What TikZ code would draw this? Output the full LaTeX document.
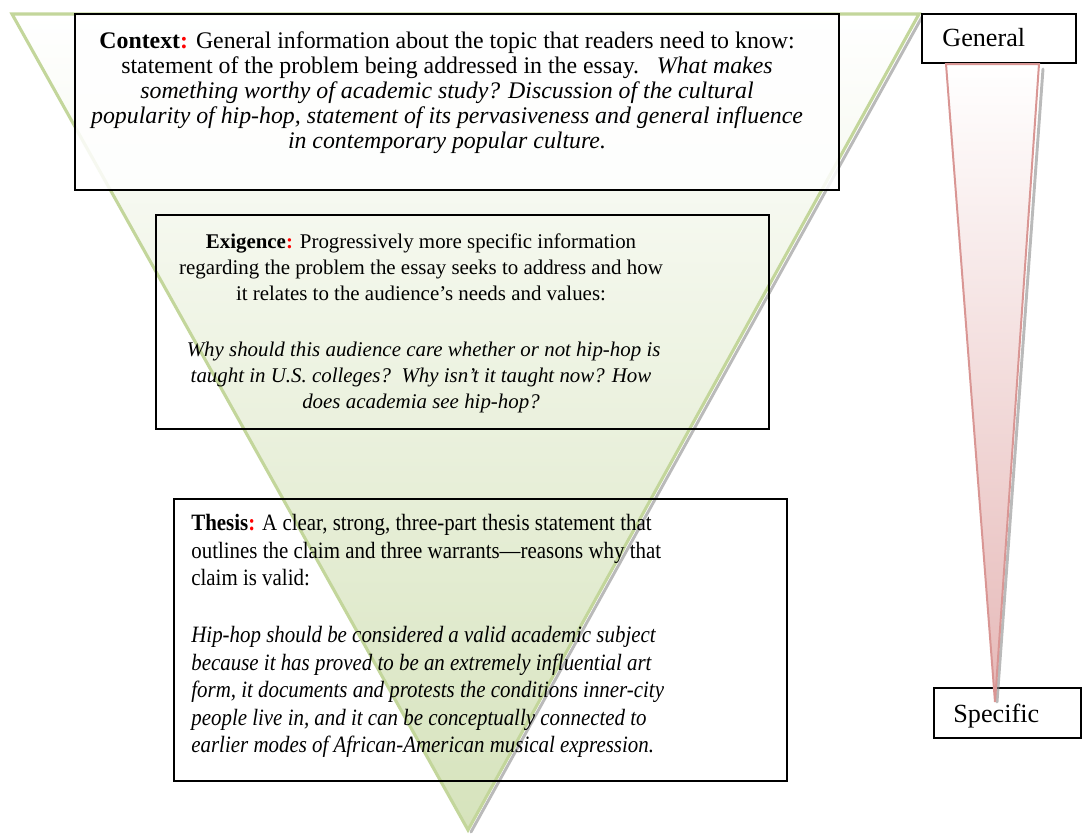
\documentclass[tikz,border=0pt]{standalone}
\usepackage{fontspec}
\setmainfont{Liberation Serif}
\definecolor{olivedraw}{RGB}{195,214,155}
\definecolor{olivefill}{RGB}{214,227,188}
\definecolor{rosedraw}{RGB}{217,150,148}
\definecolor{rosefill}{RGB}{230,185,184}
\newcommand{\pxlen}{0.55pt}
\tikzset{%
    box/.style={draw=black,line width=1pt,rectangle,inner sep=0pt,anchor=north west},
    boxtext/.style 2 args={inner sep=0pt,font=\fontsize{#1}{#2}\selectfont}
}

\begin{document}
\begin{tikzpicture}[x=0.55pt,y=-0.55pt,
  shadow line/.style={black!45,opacity=.6,line width=1.6pt,line cap=round}]
  \useasboundingbox (0,0) rectangle (1083,834);

  % the big funnel
  \coordinate (ftl) at (12,14);
  \coordinate (ftr) at (919,14);
  \coordinate (ftip) at (468,830);
  \draw[shadow line] ([shift={(3,3)}]ftr) -- ([shift={(3,2)}]ftip);
  \shade[top color=white,bottom color=olivefill] (ftl) -- (ftr) -- (ftip) -- cycle;
  \draw[olivedraw,line width=1.7pt,line join=miter] (ftl) -- (ftr) -- (ftip) -- cycle;

  \node[box,fill=white,fill opacity=.85,minimum width={764*\pxlen},minimum height={176*\pxlen}] (ctxbox) at (74,13) {};
  \node[box,minimum width={613*\pxlen},minimum height={214*\pxlen}] (exgbox) at (155,214) {};
  \node[box,minimum width={613*\pxlen},minimum height={282*\pxlen}] (thsbox) at (173,498) {};
  \node[box,fill=white,minimum width={154*\pxlen},minimum height={49*\pxlen}] (genbox) at (921,13) {};
  \node[box,fill=white,minimum width={147*\pxlen},minimum height={50*\pxlen}] (spcbox) at (933,687) {};

  \node[boxtext={13.1}{13.75},align=center,anchor=north] (ctx) at (447,31) {%
    \textbf{Context}{\color{red}\textbf{:}} General information about the topic that readers need to know:\\
    statement of the problem being addressed in the essay.\ \ \ \textit{What makes}\\
    \textit{something worthy of academic study? Discussion of the cultural}\\
    \textit{popularity of hip-hop, statement of its pervasiveness and general influence}\\
    \textit{in contemporary popular culture.}};

  \node[boxtext={11.5}{14.5},align=center,anchor=north] (exg) at (421,233) {%
    \textbf{Exigence}{\color{red}\textbf{:}} Progressively more specific information\\
    regarding the problem the essay seeks to address and how\\
    it relates to the audience's needs and values:\\[16pt]
    \ \textit{Why should this audience care whether or not hip-hop is}\\
    \textit{taught in U.S. colleges?\ \ Why isn't it taught now? How}\\
    \textit{does academia see hip-hop?}};

  \node[boxtext={11.5}{13.5},yscale=1.12,align=left,anchor=north west] (ths) at (191,514) {%
    \textbf{Thesis}{\color{red}\textbf{:}} A clear, strong, three-part thesis statement that\\
    outlines the claim and three warrants---reasons why that\\
    claim is valid:\\[14.5pt]
    \textit{Hip-hop should be considered a valid academic subject}\\
    \textit{because it has proved to be an extremely influential art}\\
    \textit{form, it documents and protests the conditions inner-city}\\
    \textit{people live in, and it can be conceptually connected to}\\
    \textit{earlier modes of African-American musical expression.}};

  \node[boxtext={14.4}{16},anchor=base west] (gen) at (942,46) {General};
  \node[boxtext={14.4}{16},anchor=base west] (spc) at (953,722) {Specific};

  % the narrow pointer
  \coordinate (ptl) at (946,64);
  \coordinate (ptr) at (1039,64);
  \coordinate (ptip) at (995,702);
  \draw[shadow line] ([shift={(4,5)}]ptr) -- ([shift={(2,0)}]ptip);
  \shade[top color=white,bottom color=rosefill] (ptl) -- (ptr) -- (ptip) -- cycle;
  \draw[rosedraw,line width=1.1pt] (ptl) -- (ptr) -- (ptip) -- cycle;
\end{tikzpicture}
\end{document}
